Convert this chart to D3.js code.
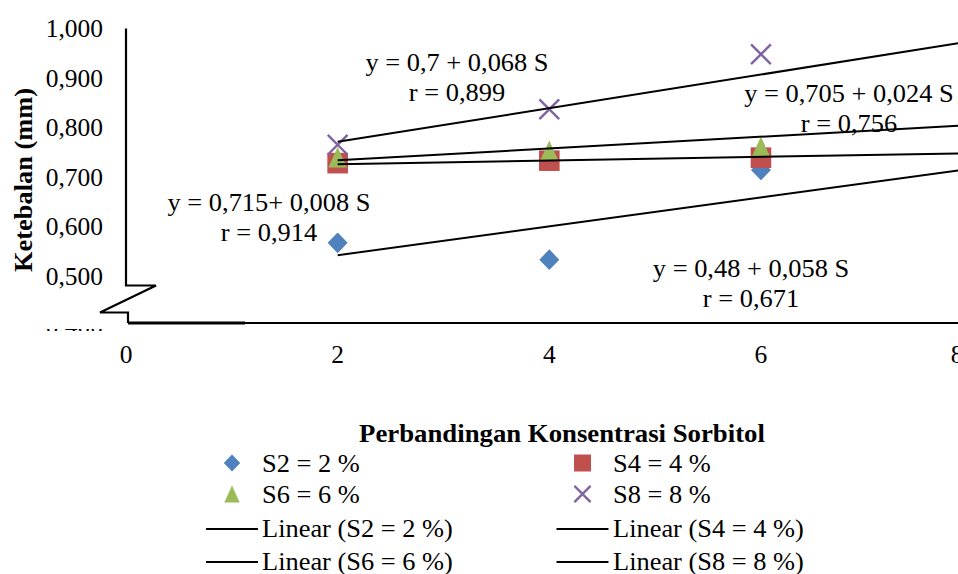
<!DOCTYPE html>
<html><head><meta charset="utf-8">
<script src="https://cdn.jsdelivr.net/npm/d3@7"></script>
<style>
html,body{margin:0;padding:0;background:#fff;}
text{font-family:"Liberation Serif","Times New Roman",serif;fill:#000;}
</style></head>
<body>
<svg id="chart" width="958" height="574"></svg>
<script>
// ---- data ----
const concentrations = [2, 4, 6];
const seriesNames = ["S2 = 2 %", "S4 = 4 %", "S6 = 6 %", "S8 = 8 %"];
const s2Values = [0.567, 0.533, 0.714];
const s4Values = [0.728, 0.733, 0.739];
const s6Values = [0.740, 0.753, 0.761];
const s8Values = [0.765, 0.837, 0.948];
const trendX = [2, 8];
const trendS2 = [0.542, 0.717];
const trendS4 = [0.726, 0.748];
const trendS6 = [0.734, 0.805];
const trendS8 = [0.771, 0.975];
const xTicks = [0, 2, 4, 6, 8];
const yTicks = [0.5, 0.6, 0.7, 0.8, 0.9, 1.0];
const equations = [
  {eq: "y = 0,7 + 0,068 S", r: "r = 0,899", v: 0.915},
  {eq: "y = 0,705 + 0,024 S", r: "r = 0,756", v: 0.852},
  {eq: "y = 0,715+ 0,008 S", r: "r = 0,914", v: 0.632},
  {eq: "y = 0,48 + 0,058 S", r: "r = 0,671", v: 0.498}
];
const xTitle = "Perbandingan Konsentrasi Sorbitol";
const yTitle = "Ketebalan (mm)";
const colors = ["#4F81BD", "#C0504D", "#9BBB59", "#8064A2"];

// ---- scales ----
const svg = d3.select("#chart");
const x = d3.scaleLinear().domain([0, 8]).range([126, 972.6]);
const y = d3.scaleLinear().domain([0.4, 1.0]).range([325.5, 28.5]);
const fmt = v => d3.format(".3f")(v).replace(".", ",");

function stretch(sel, f) {
  sel.each(function () {
    const w = this.getComputedTextLength();
    d3.select(this).attr("textLength", w * f).attr("lengthAdjust", "spacingAndGlyphs");
  });
}

// ---- axes ----
const axisY0 = x(0);
const baseY = y(0.4) - 2.5;
const g = svg.append("g");
// y tick labels
const yl = g.selectAll(".ytl").data(yTicks).enter().append("text")
  .attr("x", 103).attr("y", d => y(d) + 8.5)
  .attr("text-anchor", "end").attr("font-size", 25).text(fmt);
stretch(yl, 1.02);
// hidden 0,400 label (mostly masked by break)
svg.append("clipPath").attr("id", "cut").append("rect")
  .attr("x", 0).attr("y", baseY + 6).attr("width", 120).attr("height", 2);
const hidden = g.append("text").attr("x", 103).attr("y", y(0.4) + 8.5)
  .attr("text-anchor", "end").attr("font-size", 25).attr("fill", "#aaa")
  .attr("clip-path", "url(#cut)").text(fmt(0.4));
stretch(hidden, 1.02);

// y axis line with break
const brk = y(0.5) + 9.5;
g.append("path")
  .attr("d", `M${axisY0},${y(1.0)} L${axisY0},${brk} L${axisY0 + 30},${brk} L${axisY0 - 26},${brk + 27} L${axisY0 + 2},${brk + 27} L${axisY0 + 2},${baseY}`)
  .attr("fill", "none").attr("stroke", "#000").attr("stroke-width", 2.2);
// x axis
g.append("line").attr("x1", axisY0 + 2).attr("x2", 958).attr("y1", baseY).attr("y2", baseY)
  .attr("stroke", "#000").attr("stroke-width", 2.2);
g.append("line").attr("x1", axisY0 + 2).attr("x2", 245).attr("y1", baseY).attr("y2", baseY)
  .attr("stroke", "#000").attr("stroke-width", 3.2);
// x tick labels (last one sits at the cropped right edge, as in the original)
const xl = g.selectAll(".xtl").data(xTicks).enter().append("text")
  .attr("x", d => Math.min(x(d), 957)).attr("y", 363).attr("text-anchor", "middle")
  .attr("font-size", 25).text(d => d);
stretch(xl, 1.02);

// ---- markers ----
function marker(sel, type, color, s) {
  if (type === 0) {
    sel.append("path").attr("d", `M0,${-s}L${s * 0.97},0L0,${s}L${-s * 0.97},0Z`).attr("fill", color);
  } else if (type === 1) {
    sel.append("rect").attr("x", -s).attr("y", -s).attr("width", 2 * s).attr("height", 2 * s).attr("fill", color);
  } else if (type === 2) {
    sel.append("path").attr("d", `M0,${-s}L${s * 0.9},${s}L${-s * 0.9},${s}Z`).attr("fill", color);
  } else {
    const a = s * 0.9;
    sel.append("path").attr("d", `M${-a},${-a}L${a},${a}M${-a},${a}L${a},${-a}`)
      .attr("stroke", color).attr("stroke-width", 2.4).attr("fill", "none");
  }
}
const allSeries = [s2Values, s4Values, s6Values, s8Values];
allSeries.forEach((vals, i) => {
  const pts = g.selectAll(".p" + i).data(vals).enter().append("g")
    .attr("transform", (d, j) => `translate(${x(concentrations[j])},${y(d)})`);
  pts.each(function () { marker(d3.select(this), i, colors[i], i === 3 ? 11 : 10.3); });
});

// ---- trend lines ----
const trends = [trendS2, trendS4, trendS6, trendS8];
const line = d3.line().x((d, j) => x(trendX[j])).y(d => y(d));
trends.forEach(t => {
  g.append("path").attr("d", line(t)).attr("fill", "none")
    .attr("stroke", "#000").attr("stroke-width", 2);
});

// ---- equations ----
const eqAnchors = [457, 849, 269, 751];
equations.forEach((e, i) => {
  const cx = eqAnchors[i];
  const by = y(e.v);
  const t1 = g.append("text").attr("x", cx).attr("y", by).attr("text-anchor", "middle")
    .attr("font-size", 25).text(e.eq);
  const t2 = g.append("text").attr("x", cx).attr("y", by + 30).attr("text-anchor", "middle")
    .attr("font-size", 25).text(e.r);
  stretch(t1, 1.056); stretch(t2, 1.056);
});

// ---- titles ----
const xt = svg.append("text").attr("x", 562).attr("y", 442).attr("text-anchor", "middle")
  .attr("font-size", 25).attr("font-weight", "bold").text(xTitle);
stretch(xt, 1.07);
const yt = svg.append("text").attr("transform", "translate(32,180) rotate(-90)")
  .attr("text-anchor", "middle").attr("font-size", 25).attr("font-weight", "bold").text(yTitle);
stretch(yt, 1.056);

// ---- legend ----
const legCols = [232, 582.5];
const legTextX = [262, 613];
const rowsY = [463, 494, 529, 562];
seriesNames.forEach((n, i) => {
  const col = i % 2, row = Math.floor(i / 2);
  const mg = svg.append("g").attr("transform", `translate(${legCols[col]},${rowsY[row]})`);
  marker(mg, i, colors[i], i === 3 ? 9 : 8.5);
  const t = svg.append("text").attr("x", legTextX[col]).attr("y", rowsY[row] + 8.5)
    .attr("font-size", 25).text(n);
  stretch(t, 1.056);
});
seriesNames.forEach((n, i) => {
  const col = i % 2, row = 2 + Math.floor(i / 2);
  const ly = rowsY[row];
  svg.append("line").attr("x1", legCols[col] - 26).attr("x2", legCols[col] + 26)
    .attr("y1", ly).attr("y2", ly).attr("stroke", "#000").attr("stroke-width", 2);
  const t = svg.append("text").attr("x", legTextX[col]).attr("y", ly + 7.5)
    .attr("font-size", 25).text("Linear (" + n + ")");
  stretch(t, 1.056);
});
</script>
</body></html>
